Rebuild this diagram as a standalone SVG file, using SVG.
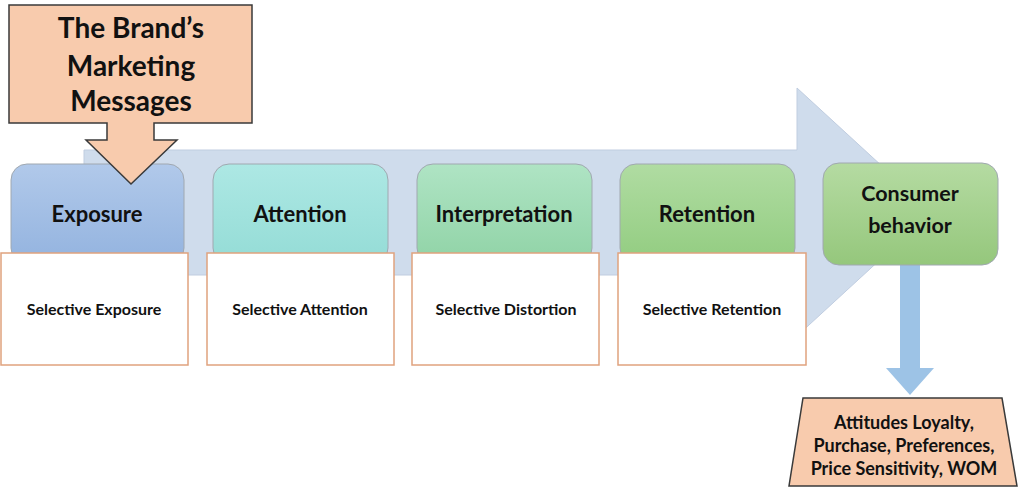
<svg xmlns="http://www.w3.org/2000/svg" width="1024" height="490" viewBox="0 0 1024 490">
<defs>
<linearGradient id="gExp" x1="0" y1="0" x2="0" y2="1"><stop offset="0" stop-color="#b1c9ea"/><stop offset="1" stop-color="#93b3df"/></linearGradient>
<linearGradient id="gAtt" x1="0" y1="0" x2="0" y2="1"><stop offset="0" stop-color="#ade8e4"/><stop offset="1" stop-color="#94dcd6"/></linearGradient>
<linearGradient id="gInt" x1="0" y1="0" x2="0" y2="1"><stop offset="0" stop-color="#afe4c4"/><stop offset="1" stop-color="#90d3a6"/></linearGradient>
<linearGradient id="gRet" x1="0" y1="0" x2="0" y2="1"><stop offset="0" stop-color="#b0dca2"/><stop offset="1" stop-color="#92cc80"/></linearGradient>
<linearGradient id="gCon" x1="0" y1="0" x2="0" y2="1"><stop offset="0" stop-color="#b5dba2"/><stop offset="1" stop-color="#95c77c"/></linearGradient>
</defs>
<style>
.t{font-family:Lato,"Open Sans","Liberation Sans",sans-serif;font-weight:700;fill:#111;text-anchor:middle}
.stage{stroke:#a0a8b0;stroke-width:1}
.sel{fill:#fff;stroke:#e0a27e;stroke-width:1.5}
.peach{fill:#f8cbad;stroke:#3a3a3a;stroke-width:1.5}
</style>
<rect width="1024" height="490" fill="#fff"/>
<g id="connectors">
<path id="bigArrow" d="M84,150 H797 V88 L932,212 L797,336 V275 H84 Z" fill="#cfdcec" stroke="#c0cde0" stroke-width="1"/>
<path id="downArrow" d="M900,265 H920 V368 H934 L910,395 L886,368 H900 Z" fill="#9dc3e6"/>
</g>
<g id="exposure"><rect class="stage" x="11" y="164" width="173" height="100" rx="16" fill="url(#gExp)"/><text class="t" x="97" y="222" font-size="22">Exposure</text></g>
<g id="attention"><rect class="stage" x="213" y="164" width="175" height="100" rx="16" fill="url(#gAtt)"/><text class="t" x="300" y="222" font-size="22">Attention</text></g>
<g id="interpretation"><rect class="stage" x="417" y="164" width="175" height="100" rx="16" fill="url(#gInt)"/><text class="t" x="504" y="222" font-size="22">Interpretation</text></g>
<g id="retention"><rect class="stage" x="620" y="164" width="175" height="100" rx="16" fill="url(#gRet)"/><text class="t" x="707" y="222" font-size="22">Retention</text></g>
<g id="consumer"><rect class="stage" x="823" y="163" width="175" height="102" rx="16" fill="url(#gCon)"/><text class="t" x="910" y="201" font-size="21.5">Consumer</text><text class="t" x="910" y="233" font-size="21.5">behavior</text></g>
<g id="selExposure"><rect class="sel" x="1" y="253" width="187" height="112"/><text class="t" x="94" y="315" font-size="16">Selective Exposure</text></g>
<g id="selAttention"><rect class="sel" x="207" y="253" width="187" height="112"/><text class="t" x="300" y="315" font-size="16">Selective Attention</text></g>
<g id="selDistortion"><rect class="sel" x="412" y="253" width="187" height="112"/><text class="t" x="506" y="315" font-size="16">Selective Distortion</text></g>
<g id="selRetention"><rect class="sel" x="618" y="253" width="188" height="112"/><text class="t" x="712" y="315" font-size="16">Selective Retention</text></g>
<g id="brand"><path class="peach" d="M9,5 H252 V123 H154 V140 H177 L131,184 L86,140 H107 V123 H9 Z"/>
<text class="t" x="131" y="38" font-size="28">The Brand’s</text>
<text class="t" x="131" y="76" font-size="28">Marketing</text>
<text class="t" x="131" y="111" font-size="28">Messages</text></g>
<g id="outcomes"><path class="peach" d="M803,398 H1002 L1017,486 H789 Z"/>
<text class="t" x="904" y="429" font-size="18">Attitudes Loyalty,</text>
<text class="t" x="904" y="452" font-size="18">Purchase, Preferences,</text>
<text class="t" x="904" y="475" font-size="18">Price Sensitivity, WOM</text></g>
</svg>
